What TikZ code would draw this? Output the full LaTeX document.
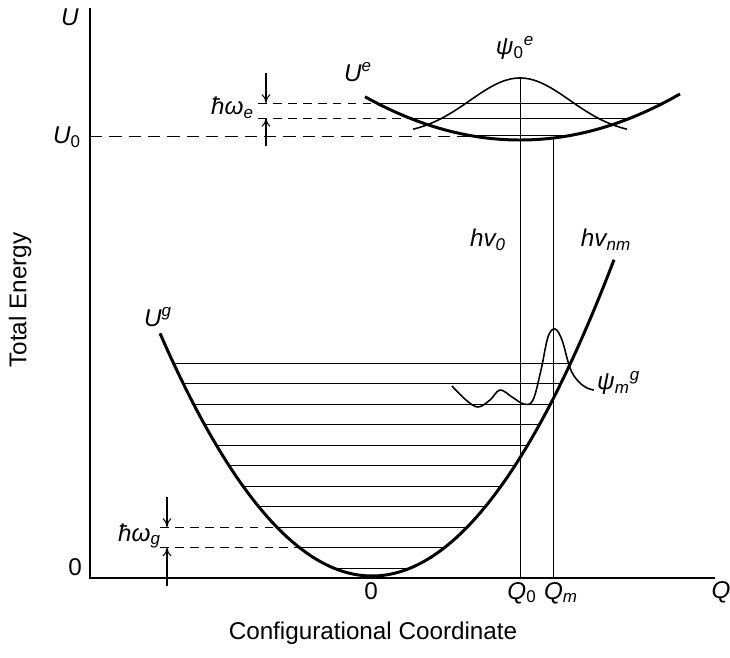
\documentclass[tikz,border=0pt]{standalone}
\usepackage{fontspec}
\setmainfont{Liberation Sans}
\usetikzlibrary{arrows.meta}
\begin{document}
\begin{tikzpicture}[
  x=0.02cm, y=-0.02cm,
  every node/.style={font=\fontsize{13.8}{16}\selectfont, inner sep=1pt},
  lbl/.style={font=\fontsize{13.8}{16}\selectfont\itshape},
  axis/.style={line width=1.1pt},
  curve/.style={line width=1.7pt},
  level/.style={line width=0.55pt},
  dashlevel/.style={line width=0.55pt, dash pattern=on 5pt off 3.5pt},
  wave/.style={line width=0.9pt},
  gap/.style={line width=0.6pt, -{To[length=5pt,width=5pt]}}
]
\useasboundingbox (0,0) rectangle (730,657);
% axes
\coordinate (top) at (90,8);
\coordinate (O) at (90,578);
\coordinate (right) at (715,578);
\draw[axis] (top) -- (O) -- (right);
\node[lbl] (U) at (70,17) {U};
\node[lbl] (Q) at (721,592) {Q};
\node[lbl, anchor=east] (U0) at (83,137) {U\textsubscript{\upshape 0}};
\node[anchor=east] (zeroU) at (84,567) {0};
\node[rotate=90] (yl) at (20,300) {Total Energy};
\node (xl) at (373,633) {Configurational Coordinate};
% ground state parabola and levels
\draw[curve] plot[domain=160:614, samples=90] (\x, {576-54*((\x-372)/100)^2});
\foreach \i in {0,...,10} {
  \pgfmathsetmacro\ly{568-20.5*\i}
  \pgfmathsetmacro\lx{100*sqrt((576-\ly)/54)}
  \draw[level] ({372-\lx},\ly) -- ({372+\lx},\ly);
}
\draw[dashlevel] (160,547.5) -- ({372-100*sqrt(28.5/54)},547.5);
\draw[dashlevel] (160,527) -- ({372-100*sqrt(49/54)},527);
\coordinate (g1) at (167,527);
\coordinate (g0) at (167,547.5);
\draw[gap] (167,497) -- (g1);
\draw[gap] (167,586) -- (g0);
\node[lbl, anchor=east] (hwg) at (163,536) {ħω\textsubscript{g}};
\node[lbl] (Ug) at (158,317) {U\textsuperscript{g}};
\node (zeroQ) at (371,591) {0};
% excited state parabola and levels
\draw[curve] plot[domain=365:680, samples=70] (\x, {140-18*((\x-520)/100)^2});
\foreach \ly in {135,118,103} {
  \pgfmathsetmacro\lx{100*sqrt((140-\ly)/18)}
  \draw[level] ({520-\lx},\ly) -- ({520+\lx},\ly);
}
\draw[dashlevel, dash pattern=on 7pt off 4pt] (90,136) -- (470,136);
\draw[dashlevel] (258,118) -- ({520-100*sqrt(22/18)},118);
\draw[dashlevel] (258,103) -- ({520-100*sqrt(37/18)},103);
\coordinate (e1) at (266,103);
\coordinate (e0) at (266,118);
\draw[gap] (266,73) -- (e1);
\draw[gap] (266,146) -- (e0);
\node[lbl, anchor=east] (hwe) at (256,108) {ħω\textsubscript{e}};
\node[lbl] (Ue) at (358,72) {U\textsuperscript{e}};
% wave functions
\draw[wave] plot[domain=413:627, samples=70] (\x, {135-57*exp(-((\x-520)/50)^2/2)});
\node[lbl] (psie) at (515,48) {ψ\textsubscript{\upshape 0}\textsuperscript{e}};
\draw[wave] plot[smooth, tension=0.6] coordinates {(452,386) (466,400) (478,407) (490,400) (500,390) (512,397) (524,404) (533,400) (541,370) (548,337) (555,329) (562,340) (570,368) (578,381) (587,388) (594,390)};
\node[lbl, anchor=west] (psig) at (595,383) {ψ\textsubscript{m}\textsuperscript{g}};
% transitions
\coordinate (Q0) at (520,578);
\coordinate (Qm) at (553,578);
\draw[level] (520,78) -- (Q0);
\draw[level] (553,138) -- (Qm);
\node[lbl] (q0) at (522,593) {Q\textsubscript{\upshape 0}};
\node[lbl] (qm) at (561,593) {Q\textsubscript{m}};
\node[lbl] (hv0) at (488,240) {hv\textsubscript{0}};
\node[lbl] (hvnm) at (606,240) {hv\textsubscript{nm}};
\end{tikzpicture}
\end{document}
